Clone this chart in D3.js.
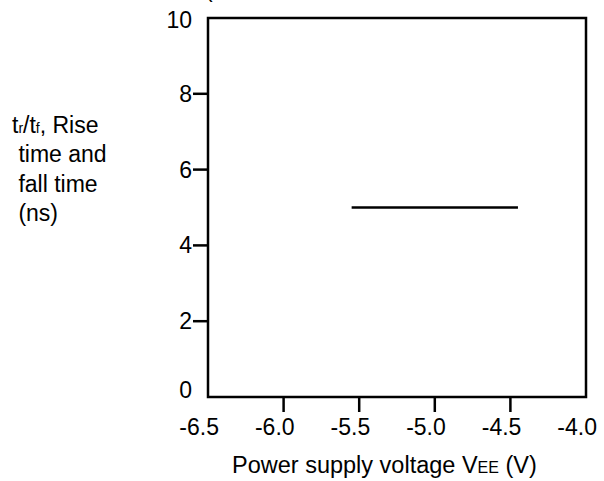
<!DOCTYPE html>
<html>
<head>
<meta charset="utf-8">
<script src="https://cdn.jsdelivr.net/npm/d3@7.9.0/dist/d3.min.js"></script>
<style>
  body { margin: 0; background: #fff; }
  svg { display: block; font-family: "Liberation Sans", Arial, sans-serif; }
</style>
</head>
<body>
<svg id="chart" width="604" height="481"></svg>
<script>
// data
const xTicks = [-6.5, -6.0, -5.5, -5.0, -4.5, -4.0];
const yTicks = [0, 2, 4, 6, 8, 10];
const supplyVoltage = [-5.55, -4.45];
const riseFallTime = [5, 5];

const width = 604, height = 481;
const margin = { top: 18, right: 18, bottom: 84, left: 208 };
const fs = 23;

const svg = d3.select('#chart');

const x = d3.scaleLinear().domain([-6.5, -4.0]).range([margin.left, width - margin.right]);
const y = d3.scaleLinear().domain([0, 10]).range([height - margin.bottom, margin.top]);

// title cut off by the top edge (only descenders visible in the reference)
svg.append('text')
  .attr('x', 205)
  .attr('y', -3)
  .attr('font-size', fs)
  .text('(Ta=25°C, V');

// tick marks (inner ones only)
svg.append('g')
  .selectAll('line')
  .data(xTicks.slice(1, -1))
  .join('line')
  .attr('x1', (d) => x(d))
  .attr('x2', (d) => x(d))
  .attr('y1', y(0))
  .attr('y2', y(0) + 15)
  .attr('stroke', '#000')
  .attr('stroke-width', 2.5);

svg.append('g')
  .selectAll('line')
  .data(yTicks.slice(1, -1))
  .join('line')
  .attr('x1', x(-6.5) - 15)
  .attr('x2', x(-6.5))
  .attr('y1', (d) => y(d))
  .attr('y2', (d) => y(d))
  .attr('stroke', '#000')
  .attr('stroke-width', 2.5);

// frame
svg.append('rect')
  .attr('x', x(-6.5))
  .attr('y', y(10))
  .attr('width', x(-4.0) - x(-6.5))
  .attr('height', y(0) - y(10))
  .attr('fill', 'none')
  .attr('stroke', '#000')
  .attr('stroke-width', 2.5);

// tick labels
svg.append('g')
  .selectAll('text')
  .data(xTicks)
  .join('text')
  .attr('x', (d) => x(d) + 11)
  .attr('y', y(0) + 38)
  .attr('text-anchor', 'end')
  .attr('font-size', fs)
  .text((d) => d.toFixed(1));

svg.append('g')
  .selectAll('text')
  .data(yTicks)
  .join('text')
  .attr('x', x(-6.5) - 16)
  .attr('y', (d) => y(d) + 8 + (d === 0 ? -7 : d === 10 ? 2 : 0))
  .attr('text-anchor', 'end')
  .attr('font-size', fs)
  .text((d) => d);

// data line
const line = d3.line()
  .x((d) => x(d[0]))
  .y((d) => y(d[1]));

svg.append('path')
  .datum(d3.zip(supplyVoltage, riseFallTime))
  .attr('d', line)
  .attr('fill', 'none')
  .attr('stroke', '#000')
  .attr('stroke-width', 2.5);

// x axis title
const xt = svg.append('text')
  .attr('x', 232)
  .attr('y', 473)
  .attr('font-size', 23.5);
xt.append('tspan').text('Power supply voltage V');
xt.append('tspan').attr('font-size', 16).text('EE');
xt.append('tspan').text(' (V)');

// y axis title, four lines
const yLines = [
  [['t', fs], ['r', 14], ['/t', fs], ['f', 14], [', Rise', fs]],
  [[' time and', fs]],
  [[' fall time', fs]],
  [[' (ns)', fs]]
];

yLines.forEach((parts, i) => {
  const t = svg.append('text')
    .attr('x', 12)
    .attr('y', 133 + i * 29.3)
    .attr('font-size', fs)
    .attr('xml:space', 'preserve')
    .style('white-space', 'pre');
  parts.forEach(([s, size]) => t.append('tspan').attr('font-size', size).text(s));
});
</script>
</body>
</html>
